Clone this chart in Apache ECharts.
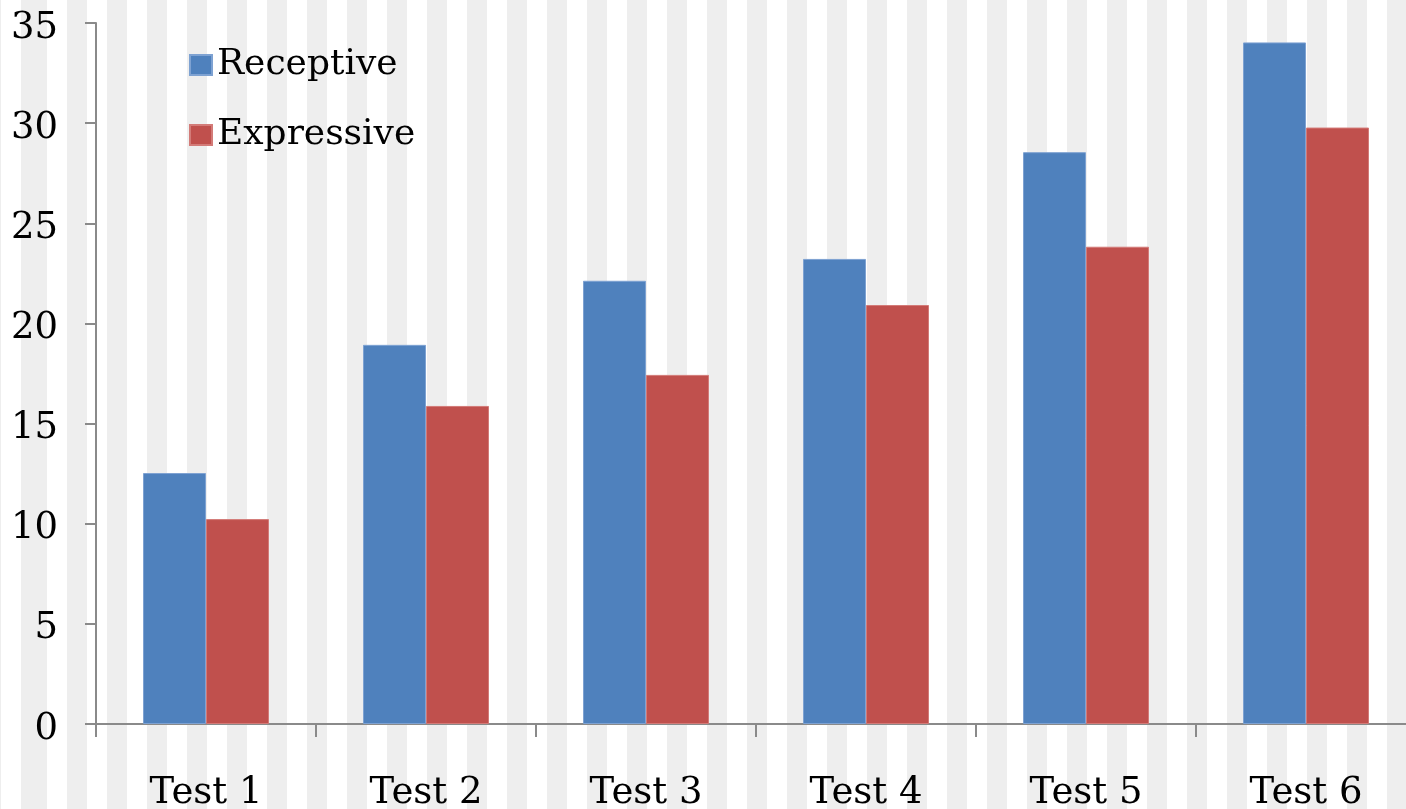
<!DOCTYPE html>
<html>
<head>
<meta charset="utf-8">
<script src="https://cdn.jsdelivr.net/npm/echarts@6/dist/echarts.min.js"></script>
<style>
  html, body { margin: 0; padding: 0; width: 1406px; height: 809px; overflow: hidden; }
  body {
    background-color: #ffffff;
    background-image: repeating-linear-gradient(90deg, #eeeeee 0px, #eeeeee 20px, #ffffff 20px, #ffffff 40px);
    background-position: 27px 0;
  }
  #chart { width: 1406px; height: 809px; }
</style>
</head>
<body>
<div id="chart"></div>
<script>
const categories = ['Test 1', 'Test 2', 'Test 3', 'Test 4', 'Test 5', 'Test 6'];
const receptive = [12.53, 18.93, 22.13, 23.22, 28.55, 34.03];
const expressive = [10.23, 15.88, 17.43, 20.92, 23.83, 29.78];
const yTicks = { min: 0, max: 35, interval: 5 };

const FONT = 'DejaVu Serif';
const axisColor = '#8a8a8a';

const chart = echarts.init(document.getElementById('chart'), null, { renderer: 'canvas' });
chart.setOption({
  backgroundColor: 'transparent',
  animation: false,
  grid: { left: 96, width: 1320, top: 23, height: 701, containLabel: false, outerBoundsMode: 'none' },
  legend: {
    orient: 'vertical',
    left: 184,
    top: 42,
    itemWidth: 22,
    itemHeight: 20,
    itemGap: 34,
    icon: 'rect',
    textStyle: { fontFamily: FONT, fontSize: 36, color: '#000', padding: [3, 0, 0, 0] },
    data: ['Receptive', 'Expressive']
  },
  xAxis: {
    type: 'category',
    data: categories,
    boundaryGap: true,
    axisLine: { lineStyle: { color: axisColor, width: 2 } },
    axisTick: { show: true, length: 13, alignWithLabel: false, lineStyle: { color: axisColor, width: 2 } },
    axisLabel: { fontFamily: FONT, fontSize: 37, color: '#000', margin: 51 },
    splitLine: { show: false }
  },
  yAxis: {
    type: 'value',
    min: yTicks.min,
    max: yTicks.max,
    interval: yTicks.interval,
    axisLine: { show: true, lineStyle: { color: axisColor, width: 2 } },
    axisTick: { show: true, length: 11, lineStyle: { color: axisColor, width: 2 } },
    axisLabel: { fontFamily: FONT, fontSize: 37, color: '#000', margin: 38, verticalAlign: 'top', lineHeight: 10 },
    splitLine: { show: false }
  },
  series: [
    {
      name: 'Receptive',
      type: 'bar',
      data: receptive,
      barWidth: 63,
      barGap: '0%',
      itemStyle: { color: '#4f81bd', borderColor: '#7ea2d2', borderWidth: 1 }
    },
    {
      name: 'Expressive',
      type: 'bar',
      data: expressive,
      barWidth: 63,
      barGap: '0%',
      itemStyle: { color: '#c0504d', borderColor: '#d37b78', borderWidth: 1 }
    }
  ]
});
</script>
</body>
</html>
